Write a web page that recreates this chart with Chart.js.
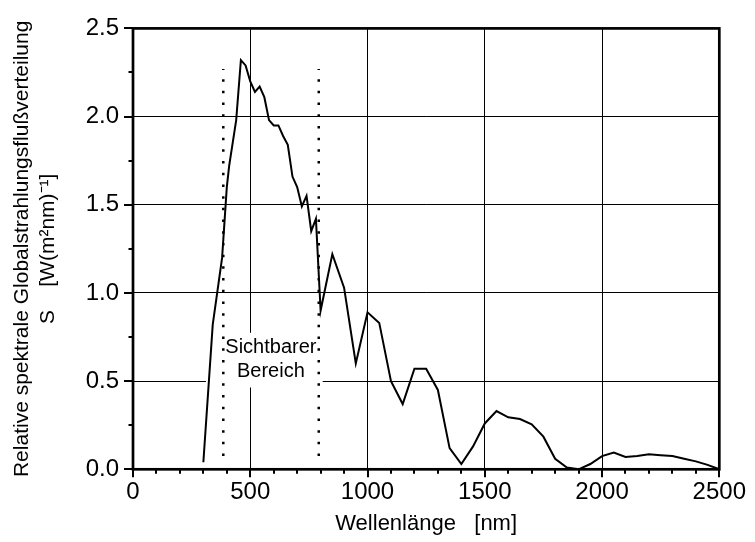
<!DOCTYPE html>
<html>
<head>
<meta charset="utf-8">
<script src="https://cdn.jsdelivr.net/npm/chart.js@4.4.0/dist/chart.umd.min.js"></script>
<style>
  body { margin: 0; background: #fff; }
  #wrap { width: 755px; height: 542px; }
</style>
</head>
<body>
<div id="wrap"><canvas id="chart"></canvas></div>
<script>
// Spektrum
var wavelengths = [300, 340, 380, 400, 410, 440, 460, 480, 500, 520, 540, 560, 580, 600, 620, 640, 660, 680, 700, 720, 740, 760, 780,
    800, 850, 900, 950, 1000, 1050, 1100, 1150, 1200, 1250, 1300, 1350, 1400, 1450, 1500, 1550, 1600, 1650, 1700, 1750,
    1800, 1850, 1900, 1950, 2000, 2050, 2100, 2150, 2200, 2250, 2300, 2350, 2400, 2450, 2500];
var irradiance = [0.04, 0.82, 1.20, 1.60, 1.72, 1.98, 2.32, 2.29, 2.20, 2.14, 2.17, 2.11, 1.98, 1.95, 1.95, 1.89, 1.84, 1.66, 1.60, 1.49, 1.55, 1.35, 1.42,
    0.90, 1.22, 1.03, 0.60, 0.89, 0.83, 0.50, 0.37, 0.57, 0.57, 0.45, 0.12, 0.03, 0.13, 0.26, 0.33, 0.295, 0.285, 0.255, 0.185,
    0.06, 0.01, 0.00, 0.03, 0.075, 0.095, 0.07, 0.075, 0.085, 0.08, 0.075, 0.06, 0.045, 0.025, 0.00];

// Sichtbarer Bereich
var visibleBounds = [385, 792];
var visibleSpan = [0.075, 2.27];
var visibleLabel = ['Sichtbarer', 'Bereich'];

var xTicks = [0, 500, 1000, 1500, 2000, 2500];
var yTicks = [0.0, 0.5, 1.0, 1.5, 2.0, 2.5];

var FONT = '"Liberation Sans", Arial, sans-serif';

var spectrum = wavelengths.map(function (w, i) { return { x: w, y: irradiance[i] }; });

function boundLine(x) {
    return {
        data: [{ x: x, y: visibleSpan[0] }, { x: x, y: visibleSpan[1] }],
        borderColor: '#000',
        borderWidth: 2.5,
        borderDash: [2.5, 9.2],
        borderCapStyle: 'butt',
        pointRadius: 0
    };
}

// Rahmen, Ticks und Beschriftung im Diagramm
var framePlugin = {
    id: 'frame',
    beforeDatasetsDraw: function (chart) {
        var ctx = chart.ctx;
        var xs = chart.scales.x, ys = chart.scales.y;
        var x0 = xs.getPixelForValue(311), x1 = xs.getPixelForValue(809);
        var y0 = ys.getPixelForValue(0.774), y1 = ys.getPixelForValue(0.464);
        var cx = xs.getPixelForValue(588);
        ctx.save();
        ctx.fillStyle = '#fff';
        ctx.fillRect(x0, y0, x1 - x0, y1 - y0);
        ctx.fillStyle = '#000';
        ctx.font = '20px ' + FONT;
        ctx.textAlign = 'center';
        ctx.textBaseline = 'alphabetic';
        ctx.fillText(visibleLabel[0], cx, ys.getPixelForValue(0.657));
        ctx.fillText(visibleLabel[1], cx, ys.getPixelForValue(0.526));
        ctx.restore();
    },
    afterDatasetsDraw: function (chart) {
        var ctx = chart.ctx;
        var a = chart.chartArea;
        var xs = chart.scales.x, ys = chart.scales.y;
        ctx.save();
        ctx.strokeStyle = '#000';
        ctx.lineWidth = 2.7;
        ctx.strokeRect(a.left, a.top, a.right - a.left, a.bottom - a.top);
        ctx.lineWidth = 2;
        ctx.beginPath();
        for (var v = 0; v <= 2500; v += 100) {
            var px = Math.round(xs.getPixelForValue(v));
            ctx.moveTo(px, a.bottom);
            ctx.lineTo(px, a.bottom + (v % 500 === 0 ? 8 : 4.5));
        }
        for (var k = 0; k <= 10; k++) {
            var py = Math.round(ys.getPixelForValue(k * 0.25));
            ctx.moveTo(a.left, py);
            ctx.lineTo(a.left - (k % 2 === 0 ? 9 : 4.5), py);
        }
        ctx.stroke();
        ctx.restore();
    }
};

new Chart(document.getElementById('chart'), {
    type: 'line',
    data: {
        datasets: [{
            data: spectrum,
            borderColor: '#000',
            borderWidth: 2,
            pointRadius: 0,
            tension: 0
        }, boundLine(visibleBounds[0]), boundLine(visibleBounds[1])]
    },
    options: {
        responsive: true,
        maintainAspectRatio: false,
        animation: false,
        layout: { padding: { top: 27, right: 35, left: 0, bottom: 0 } },
        plugins: { legend: { display: false }, tooltip: { enabled: false } },
        scales: {
            x: {
                type: 'linear',
                min: 0,
                max: 2500,
                afterFit: function (s) { s.height = 72.7; },
                afterBuildTicks: function (s) { s.ticks = xTicks.map(function (v) { return { value: v }; }); },
                ticks: {
                    color: '#000',
                    padding: 9,
                    maxRotation: 0,
                    font: { family: FONT, size: 24 },
                    callback: function (v) { return String(v); }
                },
                grid: {
                    drawTicks: false,
                    lineWidth: 1,
                    color: function (c) { return (c.tick && (c.tick.value === 0 || c.tick.value === 2500)) ? 'rgba(0,0,0,0)' : '#000'; }
                },
                border: { display: false },
                title: {
                    display: true,
                    text: 'Wellenlänge   [nm]',
                    color: '#000',
                    font: { family: FONT, size: 22 },
                    padding: { top: 0, bottom: 5 }
                }
            },
            y: {
                min: 0,
                max: 2.5,
                afterFit: function (s) { s.width = 133; },
                afterBuildTicks: function (s) { s.ticks = yTicks.map(function (v) { return { value: v }; }); },
                ticks: {
                    color: '#000',
                    padding: 14,
                    font: { family: FONT, size: 24 },
                    callback: function (v) { return Number(v).toFixed(1); }
                },
                grid: {
                    drawTicks: false,
                    lineWidth: 1,
                    color: function (c) { return (c.tick && (c.tick.value === 0 || c.tick.value === 2.5)) ? 'rgba(0,0,0,0)' : '#000'; }
                },
                border: { display: false },
                title: {
                    display: true,
                    text: ['Relative spektrale Globalstrahlungsflußverteilung', 'S    [W(m²nm)⁻¹]'],
                    color: '#000',
                    font: { family: FONT, size: 21, lineHeight: 1.25 },
                    padding: { top: 9, bottom: 0 }
                }
            }
        }
    },
    plugins: [framePlugin]
});
</script>
</body>
</html>
